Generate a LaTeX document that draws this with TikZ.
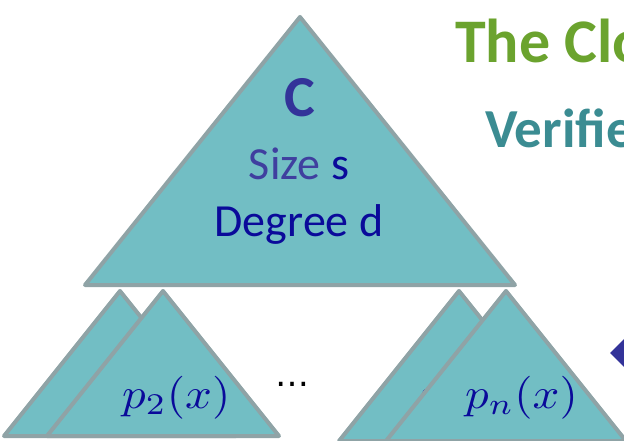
\documentclass[tikz,border=0pt]{standalone}
\usepackage{fontspec}
\setmainfont{Carlito}
\newfontfamily\dejavu{DejaVu Sans}
\usepackage{graphicx}
\definecolor{trifill}{HTML}{72BEC4}
\definecolor{tristroke}{HTML}{8FA3A6}
\definecolor{navy}{HTML}{333399}
\definecolor{deepblue}{HTML}{0A0A9A}
\definecolor{sizecol}{HTML}{3F3F9F}
\definecolor{titlegreen}{HTML}{6BA32E}
\definecolor{titleteal}{HTML}{3B8C92}
\tikzset{
  tri/.style={fill=trifill, draw=tristroke, line width=4pt, line join=round},
  ptext/.style={anchor=base west, inner sep=0pt, text=deepblue},
  ctext/.style={anchor=base, inner sep=0pt},
}
\newcommand{\bigmath}[1]{\scalebox{4.7}[4.3]{$#1$}}
\begin{document}
\begin{tikzpicture}[x=1pt, y=-1pt]
\useasboundingbox (0,0) rectangle (624,441);
\clip (0,0) rectangle (624,441);
% titles
\node[anchor=base west, inner sep=0pt, text=titlegreen, font=\fontsize{62}{62}\selectfont\bfseries] (t1) at (455,63) {The Clo};
\node[anchor=base west, inner sep=0pt, text=titleteal, font=\fontsize{55}{55}\selectfont\bfseries] (t2) at (485,148) {Verifie};
% big triangle
\draw[tri] (300,17) -- (85,285) -- (515,285) -- cycle;
\node[ctext, text=navy, font=\fontsize{58}{58}\selectfont\bfseries] (c) at (300,117) {C};
\node[ctext, font=\fontsize{46}{46}\selectfont] (size) at (299,179) {\textcolor{sizecol}{Size} \textcolor{deepblue}{s}};
\node[ctext, text=deepblue, font=\fontsize{46}{46}\selectfont] (deg) at (299,236) {Degree d};
% left pair
\draw[tri] (120,291) -- (4,436) -- (236,436) -- cycle;
\node[ptext] (p1) at (80,408) {\bigmath{p_1(x)}};
\draw[tri] (163,291) -- (47,436) -- (279,436) -- cycle;
\node[ptext] (p2) at (122,408) {\bigmath{p_2(x)}};
% dots
\node[anchor=base, inner sep=0pt, font=\dejavu\fontsize{34}{34}\selectfont] (dots) at (292,386) {…};
% right pair
\draw[tri] (459,291) -- (339,441) -- (579,441) -- cycle;
\node[ptext] (pn1) at (420,408) {\bigmath{p_{n-1}(x)}};
\draw[tri] (506,291) -- (386,441) -- (626,441) -- cycle;
\node[ptext] (pn) at (465,408) {\bigmath{p_n(x)}};
% arrow tip at right edge
\fill[navy] (610,353) -- (626,337) -- (642,353) -- (626,369) -- cycle;
\end{tikzpicture}
\end{document}
